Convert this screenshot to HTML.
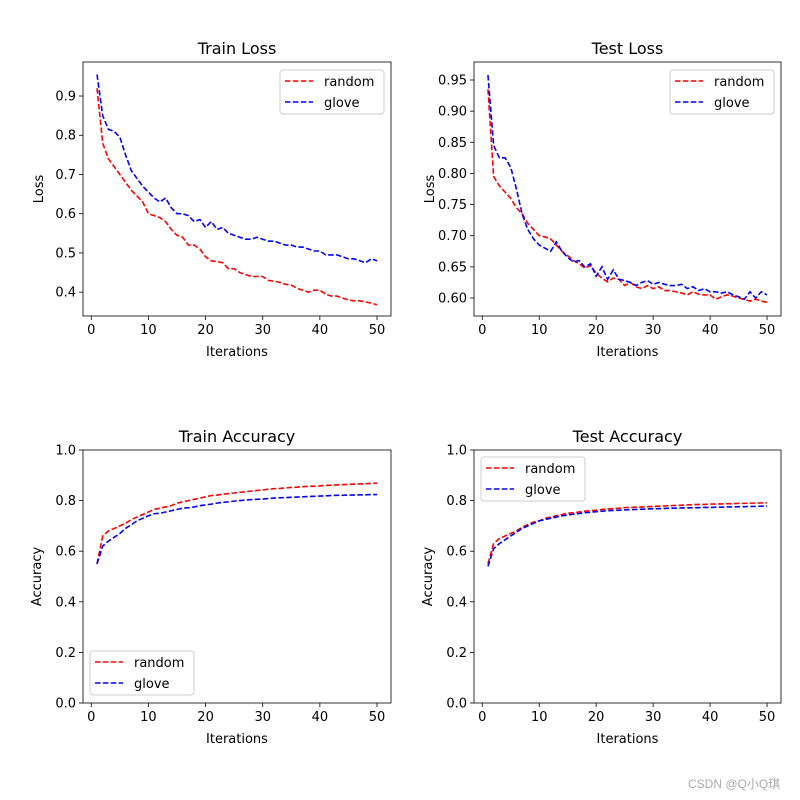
<!DOCTYPE html>
<html><head><meta charset="utf-8"><style>
body{margin:0;background:#fff}
svg{display:block;font-family:"DejaVu Sans","Liberation Sans",sans-serif}
</style></head><body>
<svg id="fig" width="800" height="800"></svg>
<div style="position:absolute;left:688px;top:775px;font:12px 'Liberation Sans','Noto Sans CJK SC',sans-serif;color:#aaa">CSDN @Q小Q琪</div>
<script>
const iterations = Array.from({length:50},(_,i)=>i+1);
const trainLossRandom=[0.92,0.78,0.74,0.72,0.70,0.68,0.66,0.645,0.63,0.60,0.595,0.59,0.58,0.56,0.545,0.54,0.52,0.52,0.51,0.49,0.48,0.478,0.475,0.46,0.46,0.45,0.445,0.44,0.44,0.44,0.43,0.428,0.425,0.42,0.418,0.41,0.405,0.40,0.405,0.405,0.395,0.39,0.39,0.385,0.38,0.378,0.378,0.375,0.372,0.368];
const trainLossGlove=[0.955,0.85,0.815,0.81,0.795,0.75,0.71,0.69,0.67,0.655,0.64,0.63,0.64,0.615,0.60,0.60,0.595,0.58,0.585,0.565,0.58,0.56,0.565,0.55,0.545,0.54,0.535,0.535,0.54,0.535,0.53,0.53,0.525,0.52,0.52,0.515,0.515,0.51,0.505,0.505,0.495,0.495,0.495,0.49,0.485,0.485,0.48,0.475,0.485,0.48];
const testLossRandom=[0.935,0.795,0.78,0.77,0.76,0.745,0.735,0.72,0.71,0.70,0.698,0.695,0.685,0.675,0.668,0.66,0.655,0.648,0.652,0.64,0.632,0.626,0.632,0.63,0.62,0.625,0.618,0.615,0.62,0.615,0.618,0.612,0.612,0.61,0.608,0.605,0.61,0.606,0.605,0.605,0.598,0.602,0.605,0.603,0.6,0.598,0.595,0.598,0.595,0.593];
const testLossGlove=[0.958,0.845,0.825,0.825,0.81,0.775,0.735,0.71,0.695,0.685,0.68,0.675,0.69,0.675,0.665,0.658,0.66,0.65,0.655,0.635,0.65,0.63,0.645,0.63,0.628,0.625,0.62,0.625,0.628,0.622,0.625,0.622,0.62,0.62,0.622,0.615,0.618,0.612,0.615,0.61,0.61,0.608,0.61,0.605,0.602,0.598,0.61,0.6,0.61,0.605];
const trainAccRandom=[0.55,0.66,0.68,0.69,0.70,0.71,0.725,0.735,0.745,0.755,0.765,0.77,0.775,0.78,0.79,0.795,0.80,0.805,0.81,0.815,0.82,0.822,0.825,0.828,0.83,0.833,0.835,0.838,0.84,0.842,0.845,0.847,0.848,0.85,0.852,0.853,0.855,0.856,0.857,0.858,0.86,0.861,0.862,0.863,0.864,0.865,0.866,0.867,0.868,0.869];
const trainAccGlove=[0.55,0.62,0.64,0.655,0.67,0.69,0.705,0.72,0.73,0.74,0.748,0.75,0.755,0.76,0.765,0.77,0.772,0.775,0.78,0.783,0.786,0.79,0.793,0.795,0.798,0.80,0.802,0.804,0.805,0.806,0.808,0.81,0.811,0.812,0.813,0.814,0.815,0.816,0.817,0.818,0.819,0.82,0.821,0.821,0.822,0.822,0.823,0.823,0.824,0.824];
const testAccRandom=[0.55,0.63,0.65,0.66,0.67,0.68,0.695,0.705,0.715,0.72,0.73,0.735,0.74,0.745,0.75,0.752,0.755,0.758,0.76,0.762,0.765,0.767,0.768,0.77,0.772,0.773,0.774,0.775,0.776,0.777,0.778,0.779,0.78,0.781,0.782,0.783,0.784,0.785,0.785,0.786,0.787,0.787,0.788,0.788,0.789,0.789,0.79,0.79,0.791,0.791];
const testAccGlove=[0.54,0.61,0.63,0.645,0.66,0.675,0.69,0.70,0.71,0.72,0.725,0.73,0.735,0.74,0.743,0.746,0.749,0.752,0.754,0.756,0.758,0.76,0.761,0.762,0.763,0.764,0.765,0.766,0.767,0.768,0.768,0.769,0.77,0.77,0.771,0.771,0.772,0.772,0.773,0.773,0.774,0.774,0.775,0.775,0.776,0.776,0.777,0.777,0.778,0.778];
const xTicks=[0,10,20,30,40,50];
const trainLossTicks=[0.4,0.5,0.6,0.7,0.8,0.9];
const testLossTicks=[0.60,0.65,0.70,0.75,0.80,0.85,0.90,0.95];
const accTicks=[0,0.2,0.4,0.6,0.8,1.0];

const NS="http://www.w3.org/2000/svg";
const svg=document.getElementById('fig');
function el(tag,attrs,parent,text){const e=document.createElementNS(NS,tag);for(const k in attrs)e.setAttribute(k,attrs[k]);if(text!==undefined)e.textContent=text;(parent||svg).appendChild(e);return e;}

const panels=[
 {name:'train-loss',title:'Train Loss',ylab:'Loss',x0:83,x1:391,y0:62,y1:316,ymin:0.3393,ymax:0.9867,ticks:trainLossTicks,dec:1,r:trainLossRandom,g:trainLossGlove,leg:[280,70]},
 {name:'test-loss',title:'Test Loss',ylab:'Loss',x0:474,x1:781,y0:62,y1:316,ymin:0.5711,ymax:0.9789,ticks:testLossTicks,dec:2,r:testLossRandom,g:testLossGlove,leg:[670,70]},
 {name:'train-accuracy',title:'Train Accuracy',ylab:'Accuracy',x0:83,x1:391,y0:450,y1:703,ymin:0,ymax:1,ticks:accTicks,dec:1,r:trainAccRandom,g:trainAccGlove,leg:[90,651]},
 {name:'test-accuracy',title:'Test Accuracy',ylab:'Accuracy',x0:474,x1:781,y0:450,y1:703,ymin:0,ymax:1,ticks:accTicks,dec:1,r:testAccRandom,g:testAccGlove,leg:[481,457]},
];
panels.forEach(p=>{
  const g=el('g',{});
  
  
  const xs=v=>p.x0+(v-(-1.45))/(53.9)*(p.x1-p.x0);
  const ys=v=>p.y1-(v-p.ymin)/(p.ymax-p.ymin)*(p.y1-p.y0);
  const t=el('text',{x:(p.x0+p.x1)/2,y:p.y0-8,'text-anchor':'middle','font-size':16},g,p.title);
  
  xTicks.forEach(v=>{const x=xs(v);el('line',{x1:x,x2:x,y1:p.y1,y2:p.y1+4,stroke:'#000','stroke-width':0.8},g);
    const tl=el('text',{x:x,y:p.y1+18,'text-anchor':'middle','font-size':13},g,String(v));
    });
  p.ticks.forEach(v=>{const y=ys(v);el('line',{x1:p.x0-4,x2:p.x0,y1:y,y2:y,stroke:'#000','stroke-width':0.8},g);
    const tl=el('text',{x:p.x0-7,y:y+4.5,'text-anchor':'end','font-size':13},g,v.toFixed(p.dec));
    });
  const xl=el('text',{x:(p.x0+p.x1)/2,y:p.y1+40,'text-anchor':'middle','font-size':13},g,'Iterations');
  
  const cy=(p.y0+p.y1)/2, lx=p.name.includes('acc')?p.x0-42:p.x0-40;
  const yl=el('text',{x:lx,y:cy,'text-anchor':'middle','font-size':13,transform:`rotate(-90 ${lx} ${cy})`},g,p.ylab);
  
  [['random',p.r,'#ff0000'],['glove',p.g,'#0000ff']].forEach(([n,arr,c])=>{
    const d=arr.map((v,i)=>(i?'L':'M')+xs(iterations[i]).toFixed(2)+' '+ys(v).toFixed(2)).join(' ');
    const pl=el('path',{d:d,fill:'none',stroke:c,'stroke-width':1.6,'stroke-dasharray':'5.5 2.4'},g);
    
  });
  el('rect',{x:p.x0,y:p.y0,width:p.x1-p.x0,height:p.y1-p.y0,fill:'none',stroke:'#000','stroke-width':0.8},g);
  const [lx0,ly0]=p.leg;
  const lg=el('g',{},g);
  
  el('rect',{x:lx0,y:ly0,width:104,height:44,rx:3,fill:'#fff','fill-opacity':0.8,stroke:'#ccc','stroke-width':1},lg);
  [['random','#ff0000'],['glove','#0000ff']].forEach(([n,c],i)=>{
    const yy=ly0+11+i*21;
    el('line',{x1:lx0+5,x2:lx0+33,y1:yy,y2:yy,stroke:c,'stroke-width':1.6,'stroke-dasharray':'5.5 2.4'},lg);
    const le=el('text',{x:lx0+44,y:yy+5,'font-size':13},lg,n);
    
  });
});
</script>
</body></html>
